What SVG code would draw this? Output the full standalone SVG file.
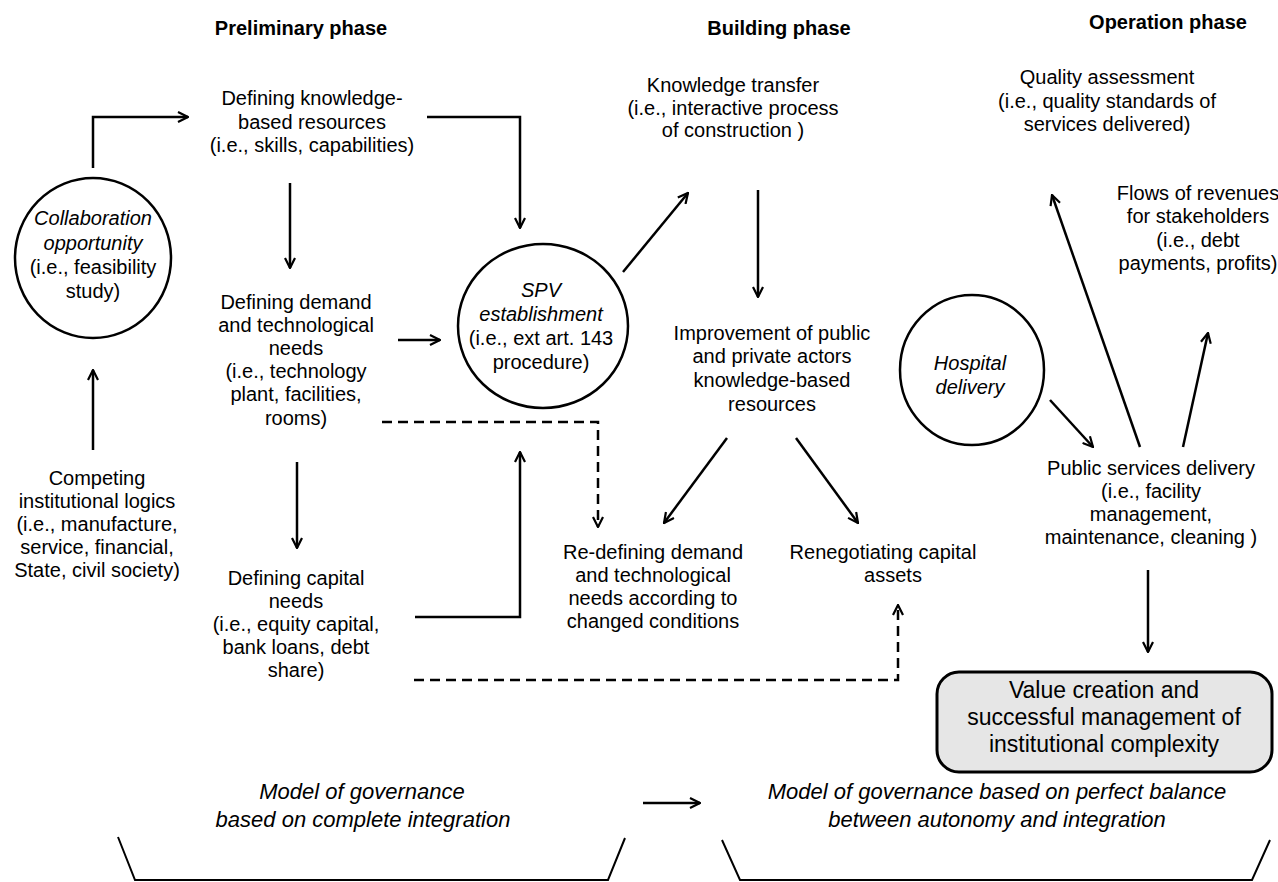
<svg xmlns="http://www.w3.org/2000/svg" width="1278" height="882" viewBox="0 0 1278 882">
<defs>
<marker id="ah" viewBox="0 0 12 12" refX="11" refY="6" markerWidth="12" markerHeight="12" markerUnits="userSpaceOnUse" orient="auto">
<path d="M1,1 L11,6 L1,11" fill="none" stroke="#000" stroke-width="2.2"/>
</marker>
<style>
.t{font-family:"Liberation Sans",Arial,sans-serif;font-size:20px;fill:#000;text-anchor:middle}
.i{font-style:italic}
.h{font-weight:bold}
.v{font-size:23px}
.b{font-family:"Liberation Sans",Arial,sans-serif;font-size:22px;font-style:italic;fill:#000;text-anchor:middle}
.c{fill:none;stroke:#000;stroke-width:2.5}
.a{fill:none;stroke:#000;stroke-width:2.5;marker-end:url(#ah)}
.d{fill:none;stroke:#000;stroke-width:2.5;stroke-dasharray:10 6;marker-end:url(#ah)}
.k{fill:none;stroke:#000;stroke-width:2}
</style>
</defs>
<rect width="1278" height="882" fill="#fff"/>

<g id="headers">
<text class="t h" x="301" y="35">Preliminary phase</text>
<text class="t h" x="779" y="35">Building phase</text>
<text class="t h" x="1168" y="29">Operation phase</text>
</g>

<g id="collaboration">
<ellipse class="c" cx="93" cy="258" rx="78" ry="80"/>
<text class="t i" x="93" y="225">Collaboration</text>
<text class="t i" x="93" y="250">opportunity</text>
<text class="t" x="93" y="274">(i.e., feasibility</text>
<text class="t" x="93" y="298">study)</text>
</g>

<g id="competing">
<text class="t" x="97" y="485">Competing</text>
<text class="t" x="97" y="508">institutional logics</text>
<text class="t" x="97" y="531">(i.e., manufacture,</text>
<text class="t" x="97" y="554">service, financial,</text>
<text class="t" x="97" y="577">State, civil society)</text>
</g>

<g id="knowledge-resources">
<text class="t" x="312" y="105">Defining knowledge-</text>
<text class="t" x="312" y="129">based resources</text>
<text class="t" x="312" y="152">(i.e., skills, capabilities)</text>
</g>

<g id="demand">
<text class="t" x="296" y="309">Defining demand</text>
<text class="t" x="296" y="332">and technological</text>
<text class="t" x="296" y="355">needs</text>
<text class="t" x="296" y="378">(i.e., technology</text>
<text class="t" x="296" y="401">plant, facilities,</text>
<text class="t" x="296" y="425">rooms)</text>
</g>

<g id="capital">
<text class="t" x="296" y="585">Defining capital</text>
<text class="t" x="296" y="608">needs</text>
<text class="t" x="296" y="631">(i.e., equity capital,</text>
<text class="t" x="296" y="654">bank loans, debt</text>
<text class="t" x="296" y="677">share)</text>
</g>

<g id="spv">
<ellipse class="c" cx="543" cy="326" rx="85" ry="82"/>
<text class="t i" x="541" y="297">SPV</text>
<text class="t i" x="541" y="321">establishment</text>
<text class="t" x="541" y="345">(i.e., ext art. 143</text>
<text class="t" x="541" y="369">procedure)</text>
</g>

<g id="knowledge-transfer">
<text class="t" x="733" y="92">Knowledge transfer</text>
<text class="t" x="733" y="115">(i.e., interactive process</text>
<text class="t" x="733" y="137">of construction )</text>
</g>

<g id="improvement">
<text class="t" x="772" y="340">Improvement of public</text>
<text class="t" x="772" y="363">and private actors</text>
<text class="t" x="772" y="387">knowledge-based</text>
<text class="t" x="772" y="411">resources</text>
</g>

<g id="redefining">
<text class="t" x="653" y="559">Re-defining demand</text>
<text class="t" x="653" y="582">and technological</text>
<text class="t" x="653" y="605">needs according to</text>
<text class="t" x="653" y="628">changed conditions</text>
</g>

<g id="renegotiating">
<text class="t" x="883" y="559">Renegotiating capital</text>
<text class="t" x="893" y="582">assets</text>
</g>

<g id="quality">
<text class="t" x="1107" y="84">Quality assessment</text>
<text class="t" x="1107" y="108">(i.e., quality standards of</text>
<text class="t" x="1107" y="131">services delivered)</text>
</g>

<g id="flows">
<text class="t" x="1198" y="200">Flows of revenues</text>
<text class="t" x="1198" y="223">for stakeholders</text>
<text class="t" x="1198" y="247">(i.e., debt</text>
<text class="t" x="1198" y="270">payments, profits)</text>
</g>

<g id="hospital">
<ellipse class="c" cx="972" cy="370" rx="72" ry="75"/>
<text class="t i" x="970" y="370">Hospital</text>
<text class="t i" x="970" y="394">delivery</text>
</g>

<g id="public-services">
<text class="t" x="1151" y="475">Public services delivery</text>
<text class="t" x="1151" y="498">(i.e., facility</text>
<text class="t" x="1151" y="521">management,</text>
<text class="t" x="1151" y="544">maintenance, cleaning )</text>
</g>

<g id="value">
<rect x="937" y="672" width="335" height="100" rx="22" fill="#e6e6e6" stroke="#000" stroke-width="3"/>
<text class="t v" x="1104" y="698">Value creation and</text>
<text class="t v" x="1104" y="725">successful management of</text>
<text class="t v" x="1104" y="752">institutional complexity</text>
</g>

<g id="governance-left">
<text class="b" x="362" y="799">Model of governance</text>
<text class="b" x="363" y="827">based on complete integration</text>
<path class="k" d="M118,837 L135,880 L608,880 L625,838"/>
</g>

<g id="governance-right">
<text class="b" x="997" y="799">Model of governance based on perfect balance</text>
<text class="b" x="997" y="827">between autonomy and integration</text>
<path class="k" d="M722,840 L740,880 L1252,880 L1270,840"/>
</g>

<g id="connectors">
<path class="a" d="M93,168 L93,117 L188,117"/>
<path class="a" d="M93,450 L93,370"/>
<path class="a" d="M290,183 L290,268"/>
<path class="a" d="M427,117 L520,117 L520,228"/>
<path class="a" d="M398,340 L440,340"/>
<path class="a" d="M297,462 L297,548"/>
<path class="a" d="M415,617 L520,617 L520,452"/>
<path class="d" d="M382,422 L598,422 L598,527"/>
<path class="d" d="M414,680 L898,680 L898,605"/>
<path class="a" d="M623,272 L688,193"/>
<path class="a" d="M758,190 L758,297"/>
<path class="a" d="M727,438 L664,523"/>
<path class="a" d="M796,438 L858,523"/>
<path class="a" d="M1050,400 L1093,447"/>
<path class="a" d="M1140,447 L1052,195"/>
<path class="a" d="M1183,447 L1208,333"/>
<path class="a" d="M1148,570 L1148,652"/>
<path class="a" d="M643,803 L700,803"/>
</g>
</svg>
